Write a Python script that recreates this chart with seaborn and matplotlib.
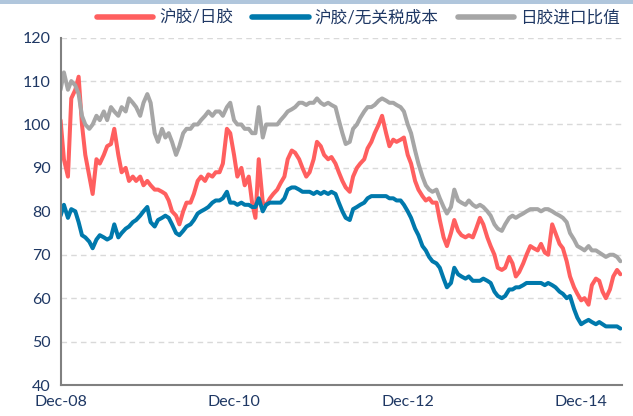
import numpy as np
import pandas as pd
import matplotlib
matplotlib.use("Agg")
import matplotlib.pyplot as plt
from matplotlib.patches import Rectangle
import seaborn as sns

# semi-monthly readings, Dec-2008 .. May-2015
dates = pd.date_range("2008-12-01", periods=156, freq="SMS")

sh_jp = [  # 沪胶/日胶
    101, 92, 88, 106, 108, 111, 100, 93, 88, 84, 92, 91, 93, 95, 95.5, 99,
    93, 89, 90, 87, 88, 87, 88, 86, 87, 86, 85, 85, 84.5, 84, 82.5, 80,
    79, 77, 80, 82, 82, 84, 87, 88, 87, 88.5, 88, 89, 89, 91, 99, 98,
    93, 88, 90, 86, 88, 82, 78.5, 92, 82, 81.5, 83, 84, 85, 86.5, 88, 92,
    94, 93.5, 92, 90, 88, 89, 92, 96, 95, 93, 92, 92.5, 91, 89, 87, 85.5,
    84.5, 88, 90, 91, 92, 94.5, 96, 98, 100, 102, 98, 95, 96.5, 96, 96.5, 97,
    93, 91, 87, 85, 83.5, 82.5, 83, 82, 82, 78, 74, 72, 75, 78, 75.5, 74.5,
    74, 74.5, 74, 76, 78.5, 77, 74, 72, 70, 67, 66.5, 67, 69.5, 68, 65, 66,
    68, 70, 72, 71.5, 71, 72.5, 70.5, 70, 77, 75, 72.5, 71.5, 68.5, 65, 62.5, 61,
    59.5, 60, 58.5, 63, 64.5, 64, 61.5, 60, 62, 65, 66.5, 65.5,
]

sh_cost = [  # 沪胶/无关税成本
    79, 81.5, 78.5, 80.5, 80, 77.5, 74.5, 74, 73, 71.5, 73.5, 74.5, 74, 73.5, 74, 77,
    74, 75, 76, 76.5, 77.5, 78, 79, 80, 81, 77.5, 76.5, 78, 78.5, 79, 78.5, 77,
    75, 74.5, 75.5, 76.5, 77, 78, 79.5, 80, 80.5, 81, 82, 82.5, 82.5, 83, 84.5, 82,
    82, 81.5, 82, 81.5, 81.5, 81, 81, 83, 80, 81.5, 82, 82, 82, 82, 83, 85,
    85.5, 85.5, 85, 84.5, 84.5, 84.5, 84, 84.5, 84, 84.5, 84, 84.5, 84, 82, 80, 78.5,
    78, 80.5, 81, 81.5, 82, 83, 83.5, 83.5, 83.5, 83.5, 83.5, 83, 83, 82.5, 82.5, 81.5,
    80, 78.5, 76, 74.5, 72, 71, 69.5, 68.5, 68, 67, 64.5, 62.5, 63.5, 67, 65.5, 65,
    64.5, 65, 64, 64, 64, 64.5, 64, 63.5, 61.5, 60.5, 60, 60.5, 62, 62, 62.5, 62.5,
    63, 63.5, 63.5, 63.5, 63.5, 63.5, 63, 63.5, 63, 62.5, 61.5, 61, 60, 60.5, 57.5, 55.5,
    54, 54.5, 55, 54.5, 54, 54.5, 54, 53.5, 53.5, 53.5, 53.5, 53,
]

jp_ratio = [  # 日胶进口比值
    108, 112, 108, 110, 109, 107, 102, 100, 99, 100, 102, 101, 103, 101, 104, 103,
    102, 104, 103, 106, 105, 104, 102, 105, 107, 105, 98, 96, 99, 97, 98, 96,
    93, 95, 98, 99, 99, 100, 100, 101, 102, 103, 102, 103, 103, 102, 104, 105,
    101, 100, 100, 99, 99, 98, 98, 104, 97, 100, 100, 100, 100, 101, 102, 103,
    103.5, 104, 105, 105, 104.5, 105, 105, 106, 105, 104.5, 105, 104.5, 104, 101, 98, 95.5,
    96, 99, 100, 101.5, 103, 104, 104, 104.5, 105.5, 106, 105.5, 105, 105, 104.5, 104, 103,
    100, 98, 94, 91, 88, 86, 85, 84.5, 85, 83, 81, 79.5, 81, 85, 82.5, 82,
    81.5, 82.5, 81.5, 81, 81.5, 81, 80, 79, 77, 76, 75.5, 77, 78.5, 79, 78.5, 79,
    79.5, 80, 80.5, 80.5, 80.5, 80, 80.5, 80.5, 80, 79.5, 79, 78.5, 77.5, 75, 73.5, 72,
    71.5, 71, 72, 71, 71, 70.5, 70, 69.5, 70, 70, 69.5, 68.5,
]

names = ["沪胶/日胶", "沪胶/无关税成本", "日胶进口比值"]
colors = ["#FF5F5F", "#0079AC", "#A6A6A6"]
tick_dates = pd.to_datetime(["2008-12-01", "2010-12-01", "2012-12-01", "2014-12-01"])
tick_labels = ["Dec-08", "Dec-10", "Dec-12", "Dec-14"]

df = pd.DataFrame({"date": dates, names[0]: sh_jp, names[1]: sh_cost, names[2]: jp_ratio})
long_df = df.melt(id_vars="date", var_name="series", value_name="value")

sns.set_style("white")
plt.rcParams["font.family"] = ["Lato", "Noto Sans CJK SC", "DejaVu Sans"]
text_color = "#1F3864"

fig = plt.figure(figsize=(6.33, 4.16), dpi=100)
ax = fig.add_axes([0.0957, 0.0745, 0.887, 0.835])

sns.lineplot(data=long_df, x="date", y="value", hue="series", hue_order=names,
             palette=colors, linewidth=2.9, legend=False, ax=ax)

ax.set_xlim(pd.Timestamp("2008-12-01"), pd.Timestamp("2015-05-22"))
ax.set_ylim(40, 120)
ax.set_yticks(range(40, 121, 10))
ax.set_xticks(tick_dates)
ax.set_xticklabels(tick_labels)
ax.set_xlabel("")
ax.set_ylabel("")

for v in range(50, 121, 10):
    ax.axhline(v, color="#D9D9D9", linestyle=(0, (4, 3)), linewidth=1.0, zorder=0)

for s in ["top", "right"]:
    ax.spines[s].set_visible(False)
for s in ["left", "bottom"]:
    ax.spines[s].set_color("#808080")
    ax.spines[s].set_linewidth(1.5)

ax.tick_params(axis="y", direction="out", length=4, width=1.2, color="#808080",
               labelsize=11.5, labelcolor=text_color, pad=3)
ax.tick_params(axis="x", direction="in", length=4, width=1.2, color="#808080",
               labelsize=11.5, labelcolor=text_color, pad=7)

leg = fig.legend(ax.lines[:3], names, loc="center", bbox_to_anchor=(0.566, 0.957),
                 ncol=3, frameon=False, handlelength=3.4, handletextpad=0.35,
                 columnspacing=1.15, fontsize=12)
for t in leg.get_texts():
    t.set_color(text_color)
for lh in leg.get_lines():
    lh.set_linewidth(4)

# thin band along the top edge
fig.patches.append(Rectangle((0, 0.99), 1, 0.01, transform=fig.transFigure,
                             facecolor="#B0C6DC", edgecolor="none"))

fig.savefig("out.png", dpi=100)
